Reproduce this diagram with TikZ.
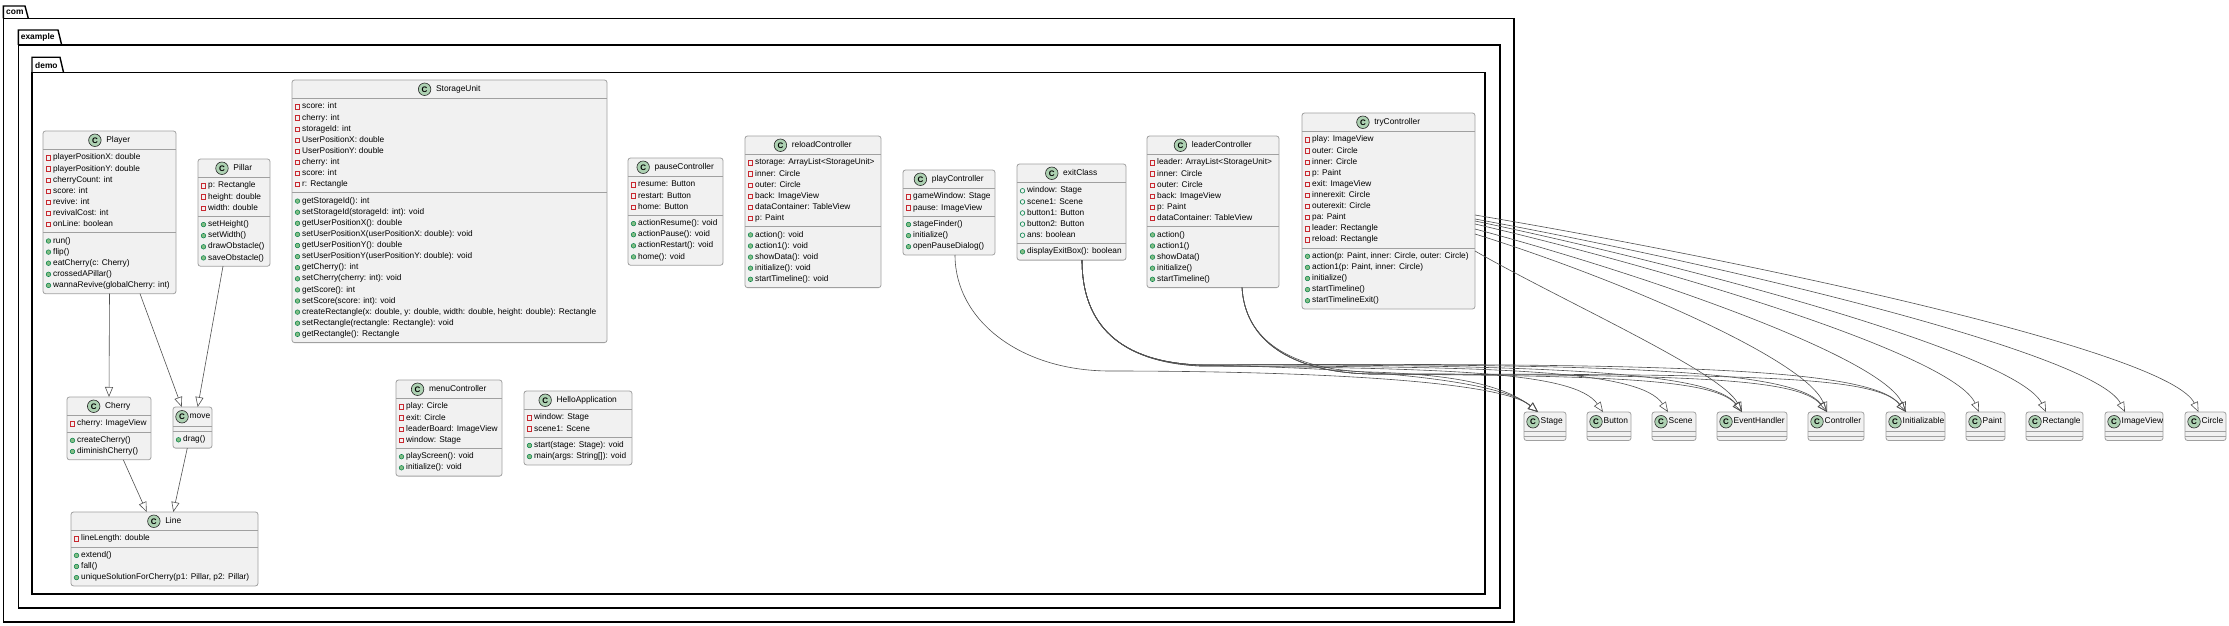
\documentclass[tikz,border=0pt]{standalone}
\usepackage{fontspec}
\setmainfont{Liberation Sans}
\usetikzlibrary{arrows.meta}
\definecolor{boxfill}{HTML}{F1F1F1}
\definecolor{boxline}{HTML}{A0A0A0}
\definecolor{iconfill}{HTML}{ADD1B2}
\definecolor{privred}{HTML}{C82930}
\definecolor{pubgreen}{HTML}{038048}
\definecolor{methgreen}{HTML}{84BE84}
\definecolor{edgecol}{HTML}{505050}
\newcount\urow
\newcount\mrow
\tikzset{
  clsbox/.style={rectangle, draw=boxline, fill=boxfill, rounded corners=2.5pt, line width=0.8pt, inner sep=0pt, outer sep=0pt, anchor=north west},
  clsline/.style={draw=boxline, line width=0.8pt},
  cname/.style={inner sep=0pt, font=\fontsize{8.4}{10}\selectfont, text height=6.1pt, text depth=1.8pt},
  cicon/.style={circle, draw=black!85, fill=iconfill, line width=0.6pt, minimum size=12.5pt, inner sep=0pt, font=\fontsize{8}{9}\bfseries\selectfont},
  rowtext/.style={anchor=west, inner sep=0pt, font=\fontsize{8.3}{10}\selectfont, text height=6pt, text depth=1.8pt},
  priv/.style={rectangle, draw=privred, line width=0.6pt, minimum size=4.4pt, inner sep=0pt},
  pubf/.style={circle, draw=pubgreen, line width=0.6pt, minimum size=4.6pt, inner sep=0pt},
  meth/.style={circle, draw=pubgreen, fill=methgreen, line width=0.5pt, minimum size=4.6pt, inner sep=0pt},
  inh/.style={draw=edgecol, line width=0.6pt, -{Triangle[open, length=10pt, width=8pt]}},
  pkg/.style={draw=black, line width=1.4pt},
  pkglabel/.style={anchor=west, inner sep=0pt, font=\fontsize{8.4}{10}\bfseries\selectfont},
}
% #1 id, #2 x1, #3 y1, #4 x2, #5 name, #6 nattr, #7 nmeth, #8 mode (0 normal, 1 compact)
\newcommand\ucls[8]{%
  \pgfmathsetmacro\uhh{ifthenelse(#8==1,19.5,18.5)}%
  \pgfmathsetmacro\uya{#3+\uhh}%
  \pgfmathsetmacro\uyb{\uya+ifthenelse(#6==0,5,5.5+11.1*#6)}%
  \pgfmathsetmacro\uyc{\uyb+ifthenelse(#7==0,4,5.5+11.1*#7)}%
  \pgfmathsetmacro\uw{#4-#2}%
  \pgfmathsetmacro\uh{\uyc-#3}%
  \def\ux{#2}%
  \node[clsbox, minimum width=\uw*1pt, minimum height=\uh*1pt] (#1) at (#2,#3) {};
  \draw[clsline] (#2,\uya) -- (#4,\uya) (#2,\uyb) -- (#4,\uyb);
  \pgfmathsetmacro\uhy{#3+\uhh/2}%
  \ifnum#8=1\relax
    \node[cicon] at (#2+9,\uhy) {C};
    \node[cname, anchor=west] (#1-t) at (#2+16.5,\uhy) {#5};
  \else
    \pgfmathsetmacro\ucx{(#2+#4)/2+8.75}%
    \node[cname] (#1-t) at (\ucx,\uhy) {#5};
    \node[cicon] at ([xshift=-11.25pt]#1-t.west) {C};
  \fi
  \urow=0 \mrow=0
}
\newcommand\fa[2]{%
  \pgfmathsetmacro\ury{\uya+2.75+11.1*(\the\urow+0.5)}%
  \node[#1] at (\ux+5.5,\ury) {};
  \node[rowtext] at (\ux+10,\ury) {#2};
  \advance\urow by 1
}
\newcommand\fpriv[1]{\fa{priv}{#1}}
\newcommand\fpub[1]{\fa{pubf}{#1}}
\newcommand\mth[1]{%
  \pgfmathsetmacro\ury{\uyb+2.75+11.1*(\the\mrow+0.5)}%
  \node[meth] at (\ux+5.5,\ury) {};
  \node[rowtext] at (\ux+10,\ury) {#1};
  \advance\mrow by 1
}
\begin{document}
\begin{tikzpicture}[x=1pt,y=-1pt]
\useasboundingbox (0,0) rectangle (2229,626);
% packages
\draw[pkg] (3.3,18.3) rectangle (1514,622);
\draw[pkg] (3.3,18.3) -- (3.3,6) -- (25,6) -- (28.3,18.3);
\node[pkglabel] (pcom) at (6,12.3) {com};
\draw[pkg] (18.3,45) rectangle (1500,608);
\draw[pkg] (18.3,45) -- (18.3,30) -- (58,30) -- (61.7,45);
\node[pkglabel] (pexample) at (20.7,37.7) {example};
\draw[pkg] (32,72.3) rectangle (1485,594);
\draw[pkg] (32,72.3) -- (32,57.3) -- (60,57.3) -- (63.5,72.3);
\node[pkglabel] (pdemo) at (35,65) {demo};

% classes
\ucls{player}{43}{131}{176}{Player}{7}{5}{0}
\fpriv{playerPositionX: double}
\fpriv{playerPositionY: double}
\fpriv{cherryCount: int}
\fpriv{score: int}
\fpriv{revive: int}
\fpriv{revivalCost: int}
\fpriv{onLine: boolean}
\mth{run()}
\mth{flip()}
\mth{eatCherry(c: Cherry)}
\mth{crossedAPillar()}
\mth{wannaRevive(globalCherry: int)}

\ucls{pillar}{198}{159}{270}{Pillar}{3}{4}{0}
\fpriv{p: Rectangle}
\fpriv{height: double}
\fpriv{width: double}
\mth{setHeight()}
\mth{setWidth()}
\mth{drawObstacle()}
\mth{saveObstacle()}

\ucls{storage}{292}{80}{607}{StorageUnit}{8}{13}{0}
\fpriv{score: int}
\fpriv{cherry: int}
\fpriv{storageId: int}
\fpriv{UserPositionX: double}
\fpriv{UserPositionY: double}
\fpriv{cherry: int}
\fpriv{score: int}
\fpriv{r: Rectangle}
\mth{getStorageId(): int}
\mth{setStorageId(storageId: int): void}
\mth{getUserPositionX(): double}
\mth{setUserPositionX(userPositionX: double): void}
\mth{getUserPositionY(): double}
\mth{setUserPositionY(userPositionY: double): void}
\mth{getCherry(): int}
\mth{setCherry(cherry: int): void}
\mth{getScore(): int}
\mth{setScore(score: int): void}
\mth{createRectangle(x: double, y: double, width: double, height: double): Rectangle}
\mth{setRectangle(rectangle: Rectangle): void}
\mth{getRectangle(): Rectangle}

\ucls{pauseC}{628}{158}{723}{pauseController}{3}{4}{0}
\fpriv{resume: Button}
\fpriv{restart: Button}
\fpriv{home: Button}
\mth{actionResume(): void}
\mth{actionPause(): void}
\mth{actionRestart(): void}
\mth{home(): void}

\ucls{reloadC}{745}{136}{881}{reloadController}{6}{5}{0}
\fpriv{storage: ArrayList<StorageUnit>}
\fpriv{inner: Circle}
\fpriv{outer: Circle}
\fpriv{back: ImageView}
\fpriv{dataContainer: TableView}
\fpriv{p: Paint}
\mth{action(): void}
\mth{action1(): void}
\mth{showData(): void}
\mth{initialize(): void}
\mth{startTimeline(): void}

\ucls{playC}{903}{170}{995}{playController}{2}{3}{0}
\fpriv{gameWindow: Stage}
\fpriv{pause: ImageView}
\mth{stageFinder()}
\mth{initialize()}
\mth{openPauseDialog()}

\ucls{exitC}{1017}{164}{1126}{exitClass}{5}{1}{0}
\fpub{window: Stage}
\fpub{scene1: Scene}
\fpub{button1: Button}
\fpub{button2: Button}
\fpub{ans: boolean}
\mth{displayExitBox(): boolean}

\ucls{leaderC}{1147}{136}{1279}{leaderController}{6}{5}{0}
\fpriv{leader: ArrayList<StorageUnit>}
\fpriv{inner: Circle}
\fpriv{outer: Circle}
\fpriv{back: ImageView}
\fpriv{p: Paint}
\fpriv{dataContainer: TableView}
\mth{action()}
\mth{action1()}
\mth{showData()}
\mth{initialize()}
\mth{startTimeline()}

\ucls{tryC}{1302}{113}{1475}{tryController}{10}{5}{0}
\fpriv{play: ImageView}
\fpriv{outer: Circle}
\fpriv{inner: Circle}
\fpriv{p: Paint}
\fpriv{exit: ImageView}
\fpriv{innerexit: Circle}
\fpriv{outerexit: Circle}
\fpriv{pa: Paint}
\fpriv{leader: Rectangle}
\fpriv{reload: Rectangle}
\mth{action(p: Paint, inner: Circle, outer: Circle)}
\mth{action1(p: Paint, inner: Circle)}
\mth{initialize()}
\mth{startTimeline()}
\mth{startTimelineExit()}

\ucls{cherry}{67}{397}{151}{Cherry}{1}{2}{0}
\fpriv{cherry: ImageView}
\mth{createCherry()}
\mth{diminishCherry()}

\ucls{move}{173}{407}{212}{move}{0}{1}{1}
\mth{drag()}

\ucls{lineC}{71}{512}{258}{Line}{1}{3}{0}
\fpriv{lineLength: double}
\mth{extend()}
\mth{fall()}
\mth{uniqueSolutionForCherry(p1: Pillar, p2: Pillar)}

\ucls{menuC}{396}{380}{502}{menuController}{4}{2}{0}
\fpriv{play: Circle}
\fpriv{exit: Circle}
\fpriv{leaderBoard: ImageView}
\fpriv{window: Stage}
\mth{playScreen(): void}
\mth{initialize(): void}

\ucls{helloA}{524}{391}{632}{HelloApplication}{2}{2}{0}
\fpriv{window: Stage}
\fpriv{scene1: Scene}
\mth{start(stage: Stage): void}
\mth{main(args: String[]): void}

% external classes
\ucls{stage}{1524}{412}{1566}{Stage}{0}{0}{1}
\ucls{button}{1587}{412}{1631}{Button}{0}{0}{1}
\ucls{scene}{1652}{412}{1696}{Scene}{0}{0}{1}
\ucls{evh}{1717}{412}{1787}{EventHandler}{0}{0}{1}
\ucls{ctrl}{1808}{412}{1864}{Controller}{0}{0}{1}
\ucls{initz}{1886}{412}{1945}{Initializable}{0}{0}{1}
\ucls{paint}{1966}{412}{2005}{Paint}{0}{0}{1}
\ucls{rect}{2026}{412}{2083}{Rectangle}{0}{0}{1}
\ucls{imgv}{2105}{412}{2163}{ImageView}{0}{0}{1}
\ucls{circleC}{2185}{412}{2226}{Circle}{0}{0}{1}

% inheritance, left side
\draw[inh] (player.south) -- (cherry.north);
\draw[inh] ([xshift=30.5pt]player.south) -- ([xshift=-10.8pt]move.north);
\draw[inh] ([xshift=-11pt]pillar.south) -- ([xshift=5.2pt]move.north);
\draw[inh] ([xshift=14.3pt]cherry.south) -- ([xshift=-17.8pt]lineC.north);
\draw[inh] ([xshift=-5.2pt]move.south) -- ([xshift=8.8pt]lineC.north);

% bundle to external classes
\draw[inh] ([xshift=6pt]playC.south) .. controls (955,320) and (1020,371) .. (1110,371) .. controls (1300,371) and (1500,380) .. ([xshift=-7pt]stage.north);
\draw[inh] ([xshift=10.5pt]exitC.south) .. controls (1082,325) and (1120,362) .. (1200,365) .. controls (1350,368) and (1497,378) .. ([xshift=-7pt]stage.north);
\draw[inh] ([xshift=29pt]leaderC.south) .. controls (1245,340) and (1290,370) .. (1370,372) .. controls (1440,374) and (1500,382) .. ([xshift=-7pt]stage.north);
\draw[inh] ([xshift=10.5pt]exitC.south) .. controls (1082,325) and (1120,362) .. (1200,366) .. controls (1450,368) and (1575,372) .. ([xshift=-6pt]button.north);
\draw[inh] ([xshift=10.5pt]exitC.south) .. controls (1082,325) and (1120,362) .. (1200,366) .. controls (1500,366) and (1640,370) .. ([xshift=-6pt]scene.north);
\draw[inh] ([xshift=10.5pt]exitC.south) .. controls (1082,325) and (1120,362) .. (1200,365) .. controls (1550,364) and (1712,372) .. ([xshift=-10pt]evh.north);
\draw[inh] ([xshift=10.5pt]exitC.south) .. controls (1082,325) and (1120,362) .. (1200,365) .. controls (1620,363) and (1795,370) .. ([xshift=-9pt]ctrl.north);
\draw[inh] ([xshift=10.5pt]exitC.south) .. controls (1082,325) and (1120,362) .. (1200,365) .. controls (1700,362) and (1872,370) .. ([xshift=-9.5pt]initz.north);
\draw[inh] ([xshift=29pt]leaderC.south) .. controls (1245,340) and (1290,372) .. (1370,374) .. controls (1600,376) and (1715,378) .. ([xshift=-10pt]evh.north);
\draw[inh] ([xshift=29pt]leaderC.south) .. controls (1245,340) and (1290,372) .. (1370,374) .. controls (1680,375) and (1798,377) .. ([xshift=-9pt]ctrl.north);
\draw[inh] ([xshift=29pt]leaderC.south) .. controls (1245,340) and (1290,372) .. (1370,374) .. controls (1760,374) and (1876,376) .. ([xshift=-9.5pt]initz.north);

% tryController fan
\draw[inh] ([shift={(0,102)}]tryC.north east) .. controls (1764,264) and (2170,352) .. ([xshift=-7pt]circleC.north);
\draw[inh] ([shift={(0,106)}]tryC.north east) .. controls (1735,267) and (2095,354) .. ([xshift=-9pt]imgv.north);
\draw[inh] ([shift={(0,108)}]tryC.north east) .. controls (1703,269) and (2018,355) .. ([xshift=-8.5pt]rect.north);
\draw[inh] ([shift={(0,111)}]tryC.north east) .. controls (1677,271) and (1954,356) .. ([xshift=-6.5pt]paint.north);
\draw[inh] ([shift={(0,116)}]tryC.north east) .. controls (1647,275) and (1882,357) .. ([xshift=-9.5pt]initz.north);
\draw[inh] ([shift={(0,121)}]tryC.north east) .. controls (1616,278) and (1806,359) .. ([xshift=-9pt]ctrl.north);
\draw[inh] ([shift={(0,138)}]tryC.north east) .. controls (1560,300) and (1722,372) .. ([xshift=-10pt]evh.north);
\end{tikzpicture}
\end{document}
